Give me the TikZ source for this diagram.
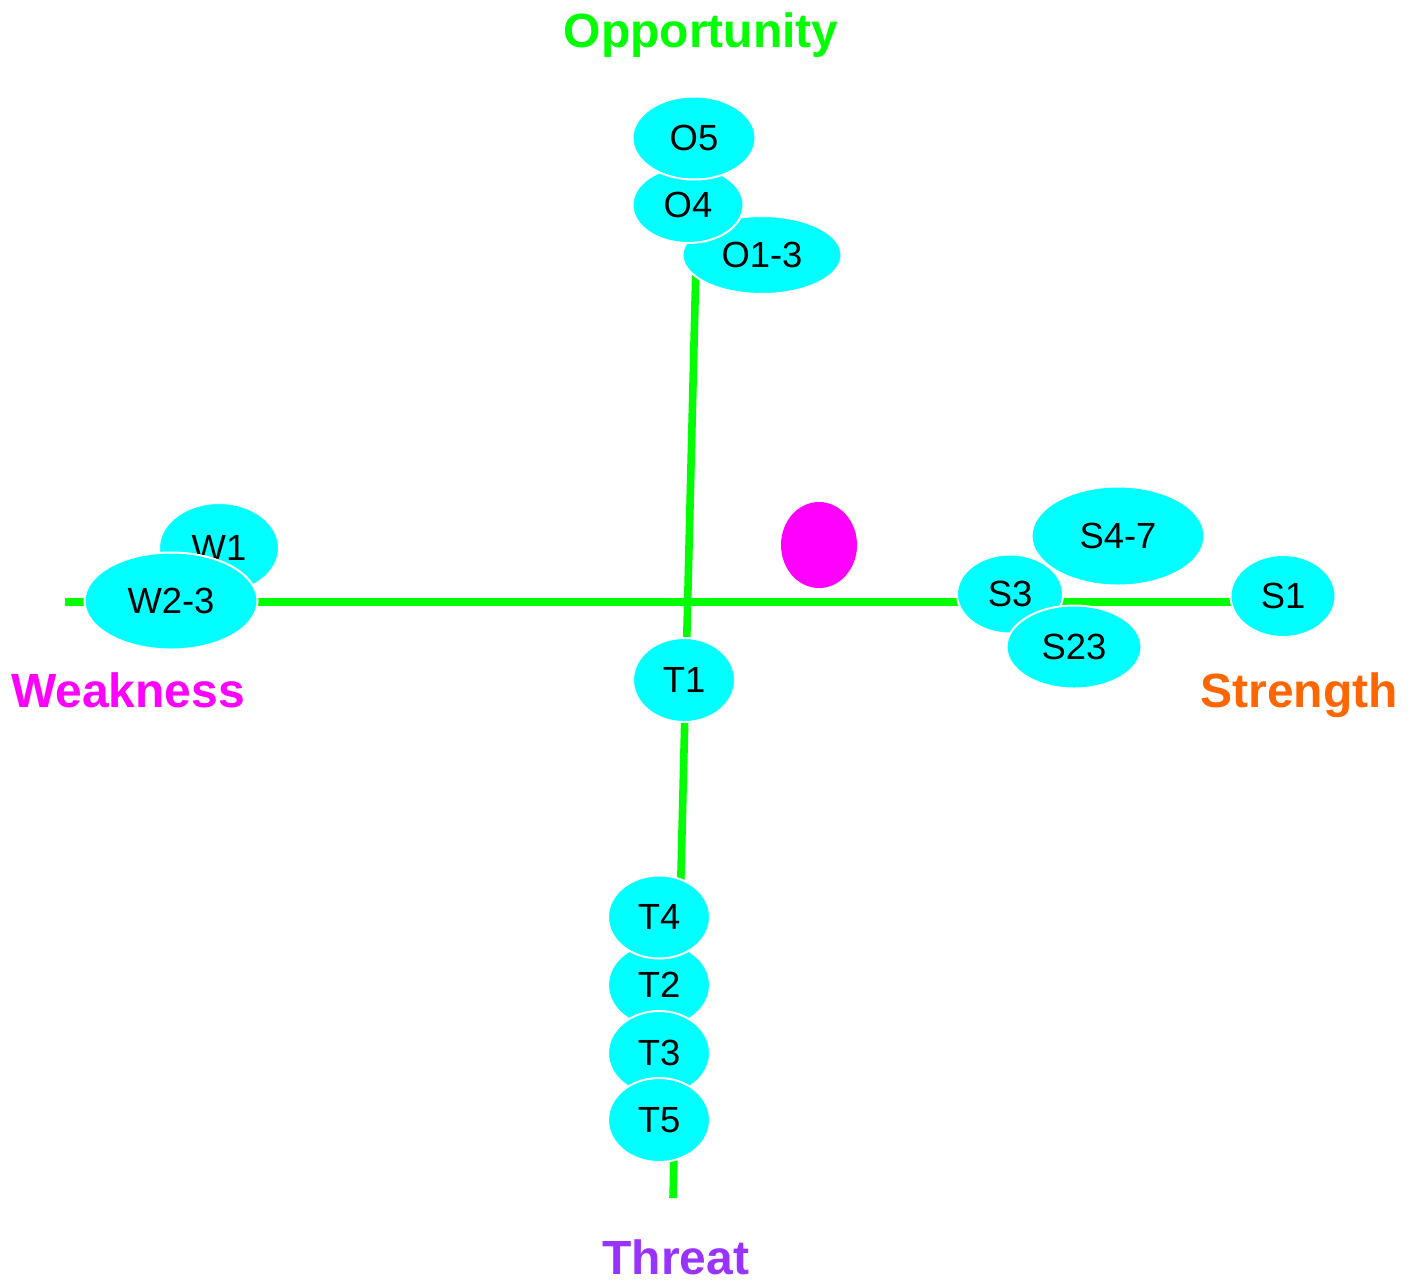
\documentclass[tikz,border=0pt]{standalone}
\usepackage{fontspec}
\setmainfont{Liberation Sans}
\usetikzlibrary{shapes.geometric}
\definecolor{axisgreen}{HTML}{00FF00}
\definecolor{itemcyan}{HTML}{00FFFF}
\definecolor{weakmag}{HTML}{FF00FF}
\definecolor{strorange}{HTML}{FF6600}
\definecolor{thrpurple}{HTML}{9933FF}
\tikzset{
  axis/.style={draw=axisgreen, line width=3.8pt},
  blob/.style 2 args={ellipse, fill=itemcyan, draw=white, line width=1pt,
    inner sep=0pt, minimum width=#1*1pt, minimum height=#2*1pt,
    font=\fontsize{18.2}{20}\selectfont, text=black},
  quadlabel/.style={font=\bfseries\fontsize{24}{26}\selectfont, anchor=base, inner sep=0pt}
}
\begin{document}
\begin{tikzpicture}[x=0.5pt, y=-0.5pt]
\useasboundingbox (0,0) rectangle (1416,1285);
% axis end points
\coordinate (vtop) at (696,262);
\coordinate (vbot) at (673,1198);
\coordinate (hleft) at (65,602);
\coordinate (hright) at (1250,602);
\draw[axis] (vtop) -- (vbot);
\draw[axis] (hleft) -- (hright);
% quadrant labels
\node[quadlabel, text=axisgreen] (lopp) at (701,47) {Opportunity};
\node[quadlabel, text=weakmag] (lweak) at (128,707) {Weakness};
\node[quadlabel, text=strorange] (lstr) at (1299,707) {Strength};
\node[quadlabel, text=thrpurple] (lthr) at (676,1274) {Threat};
% opportunities
\node[blob={79.5}{39}] (o13) at (762,255) {O1-3};
\node[blob={55.5}{38}] (o4) at (688,205) {O4};
\node[blob={61.5}{41.5}] (o5) at (694,138) {O5};
% weaknesses
\node[blob={60}{45}] (w1) at (219,548) {W1};
\node[blob={86.5}{48.5}] (w23) at (171,601) {W2-3};
% strengths
\node[blob={86.5}{49.5}] (s47) at (1118,536) {S4-7};
\node[blob={53}{39.5}] (s3) at (1010,594) {S3};
\node[blob={67.5}{41.5}] (s23) at (1074,647) {S23};
\node[blob={52.5}{41}] (s1) at (1283,596) {S1};
% threats
\node[blob={51}{42}] (t1) at (684,680) {T1};
\node[blob={51}{42}] (t2) at (659,985) {T2};
\node[blob={51}{41.5}] (t4) at (659,917) {T4};
\node[blob={51}{42}] (t3) at (659,1053) {T3};
\node[blob={51}{42}] (t5) at (659,1120) {T5};
% current position marker
\node[ellipse, fill=weakmag, inner sep=0pt, minimum width=38pt, minimum height=43pt] (pos) at (819,545) {};
\end{tikzpicture}
\end{document}
